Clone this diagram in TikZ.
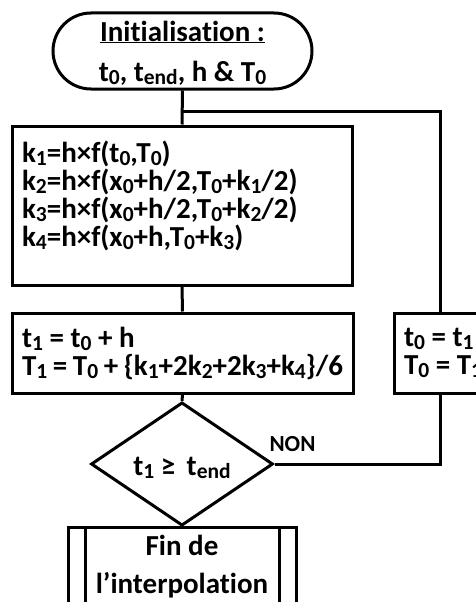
\documentclass[tikz,border=0pt]{standalone}
\usepackage{fontspec}
\setmainfont{Carlito}[Ligatures=CommonOff]
\usetikzlibrary{shapes.geometric,shapes.misc}
\newcommand{\sbs}[1]{\raisebox{-3pt}{\fontsize{21.5}{21.5}\selectfont#1}}
\newcommand{\nsp}{\spaceskip=0pt\xspaceskip=0pt\relax}
\tikzset{
  txt/.style={font=\bfseries\fontsize{29}{28}\selectfont},
  procbox/.style={draw, rectangle, txt, align=left, inner xsep=10pt, inner ysep=0pt},
  termbox/.style={draw, rounded rectangle, txt, align=center, minimum width=259pt, minimum height=76pt, inner sep=0pt},
  decbox/.style={draw, diamond, txt, minimum width=182pt, minimum height=80pt, inner sep=0pt, text height=24pt, text depth=2pt},
  finbox/.style={draw, rectangle, txt, align=center, minimum width=228pt, minimum height=80pt, inner sep=0pt},
  link/.style={line width=3pt},
  lbl/.style={font=\bfseries\fontsize{23}{24}\selectfont}
}
\begin{document}
\begin{tikzpicture}[x=1pt,y=-1pt,line width=3pt]
\useasboundingbox (0,0) rectangle (476,602);
\clip (0,0) rectangle (476,602);
\node[termbox] (init) at (182.5,51) {\nsp\rule{0pt}{24pt}\underline{Initialisation :}\\[12pt]t\sbs{0}, t\sbs{end}, h \& T\sbs{0}};
\node[procbox, text width=320pt, minimum height=159pt] (rk) at (182,205.5)
  {\nsp k\sbs{1}=h×f(t\sbs{0},T\sbs{0})\\
   k\sbs{2}=h×f(x\sbs{0}+h/2,T\sbs{0}+k\sbs{1}/2)\\
   k\sbs{3}=h×f(x\sbs{0}+h/2,T\sbs{0}+k\sbs{2}/2)\\
   k\sbs{4}=h×f(x\sbs{0}+h,T\sbs{0}+k\sbs{3})\\[-4pt]\mbox{}};
\node[procbox, text width=321pt, minimum height=80pt] (upd) at (182.5,353)
  {\nsp t\sbs{1} = t\sbs{0} + h\\T\sbs{1} = T\sbs{0} + \{k\sbs{1}+2k\sbs{2}+2k\sbs{3}+k\sbs{4}\}/6};
\node[procbox, text width=100pt, minimum height=80pt] (swap) at (454,353)
  {\nsp t\sbs{0} = t\sbs{1}\\T\sbs{0} = T\sbs{1}};
\node[decbox] (dec) at (182,464) {\nsp t\sbs{1} ≥\, t\sbs{end}};
\node[finbox] (fin) at (182,567) {\nsp Fin de\\[10pt]l’interpolation};
\draw ([xshift=19pt]fin.north west) -- ([xshift=19pt]fin.south west);
\draw ([xshift=-18pt]fin.north east) -- ([xshift=-18pt]fin.south east);
\coordinate (j) at (182,111);
\coordinate (jr) at (440,111);
\draw[link] (init.south) -- (rk.north);
\draw[link] (j) -- (jr) -- (jr |- swap.north);
\draw[link] (rk.south) -- (upd.north);
\draw[link] (upd.south) -- (dec.north);
\draw[link] (dec.east) -| (jr |- swap.south);
\node[lbl] (non) at (292.5,444) {NON};
\draw[link] (dec.south) -- (fin.north);
\end{tikzpicture}
\end{document}
